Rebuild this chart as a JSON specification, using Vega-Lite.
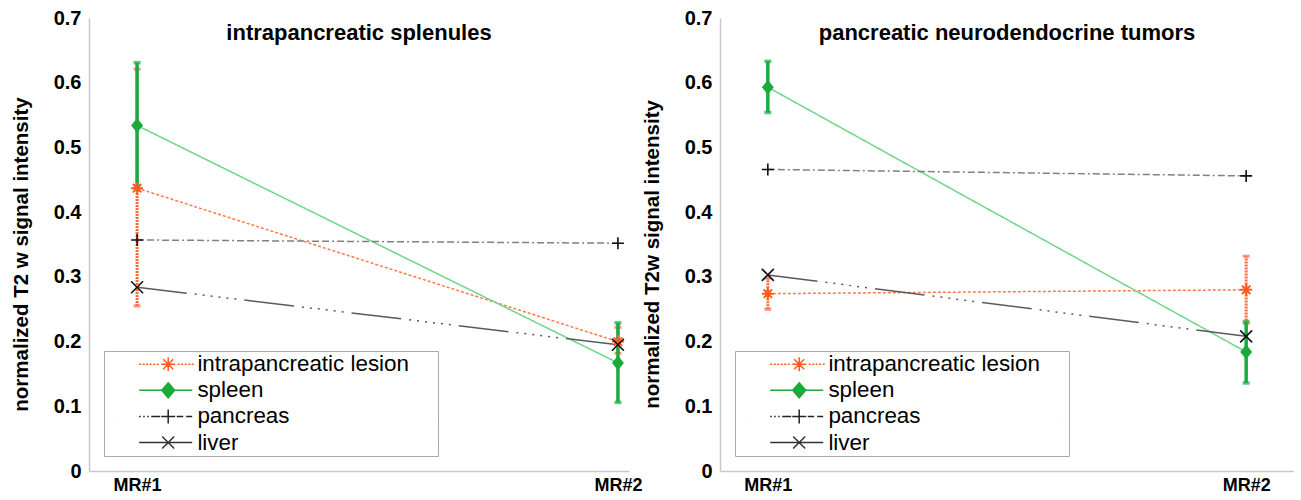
{
  "$schema": "https://vega.github.io/schema/vega-lite/v6.json",
  "padding": {"left": 11, "top": 8, "right": 0, "bottom": 4},
  "spacing": 0,
  "resolve": {
    "scale": {"color": "independent", "strokeDash": "independent", "shape": "independent", "fill": "independent", "stroke": "independent"},
    "legend": {"shape": "independent", "fill": "independent", "stroke": "independent"}
  },
  "config": {
    "font": "Liberation Sans",
    "view": {"stroke": null},
    "axis": {
      "labelFont": "Liberation Sans",
      "labelFontWeight": "bold",
      "labelColor": "black",
      "domainColor": "#c8c8c8",
      "domainWidth": 1.5,
      "ticks": false,
      "grid": false,
      "titleFont": "Liberation Sans",
      "titleFontWeight": "bold",
      "titleColor": "black"
    },
    "legend": {
      "orient": "bottom-left",
      "offset": 15,
      "padding": 2,
      "strokeColor": "#aaaaaa",
      "fillColor": "white",
      "labelFont": "Liberation Sans",
      "labelFontSize": 22.4,
      "labelColor": "black",
      "labelLimit": 500,
      "symbolSize": 100,
      "symbolStrokeWidth": 1.5,
      "symbolOffset": 51,
      "labelOffset": 18,
      "rowPadding": 3.1
    },
    "title": {"font": "Liberation Sans", "fontSize": 22, "fontWeight": "bold", "color": "black", "anchor": "middle", "offset": -37}
  },
  "datasets": {
    "d": [
      {"panel": "A", "series": "intrapancreatic lesion", "mr": 1, "value": 0.437, "lo": 0.255, "hi": 0.621},
      {"panel": "A", "series": "intrapancreatic lesion", "mr": 2, "value": 0.200, "lo": 0.182, "hi": 0.222},
      {"panel": "A", "series": "spleen", "mr": 1, "value": 0.534, "lo": 0.437, "hi": 0.631},
      {"panel": "A", "series": "spleen", "mr": 2, "value": 0.167, "lo": 0.106, "hi": 0.229},
      {"panel": "A", "series": "pancreas", "mr": 1, "value": 0.357},
      {"panel": "A", "series": "pancreas", "mr": 2, "value": 0.352},
      {"panel": "A", "series": "liver", "mr": 1, "value": 0.284},
      {"panel": "A", "series": "liver", "mr": 2, "value": 0.195},
      {"panel": "B", "series": "intrapancreatic lesion", "mr": 1, "value": 0.274, "lo": 0.250, "hi": 0.298},
      {"panel": "B", "series": "intrapancreatic lesion", "mr": 2, "value": 0.280, "lo": 0.228, "hi": 0.332},
      {"panel": "B", "series": "spleen", "mr": 1, "value": 0.593, "lo": 0.554, "hi": 0.633},
      {"panel": "B", "series": "spleen", "mr": 2, "value": 0.184, "lo": 0.136, "hi": 0.231},
      {"panel": "B", "series": "pancreas", "mr": 1, "value": 0.466},
      {"panel": "B", "series": "pancreas", "mr": 2, "value": 0.456},
      {"panel": "B", "series": "liver", "mr": 1, "value": 0.303},
      {"panel": "B", "series": "liver", "mr": 2, "value": 0.208}
    ]
  },
  "hconcat": [
    {
      "width": 540,
      "height": 453,
      "title": "intrapancreatic splenules",
      "data": {"name": "d"},
      "transform": [{"filter": "datum.panel === 'A'"}],
      "encoding": {
        "x": {"field": "mr", "type": "quantitative", "scale": {"domain": [0.9, 2.023], "nice": false, "zero": false},
              "axis": {"values": [1, 2], "labelExpr": "datum.value == 1 ? 'MR#1' : 'MR#2'", "labelFontSize": 18, "labelPadding": 5, "title": null}}
      },
      "layer": [
        {
          "transform": [{"filter": "datum.series === 'intrapancreatic lesion'"}],
          "mark": {"type": "errorbar", "ticks": true, "color": "#FF6A3D", "thickness": 3, "size": 7, "rule": {"strokeDash": [2, 1]}},
          "encoding": {
            "y": {"field": "lo", "type": "quantitative", "scale": {"domain": [0, 0.7], "nice": false}, "title": "normalized T2 w signal intensity",
                  "axis": {"values": [0, 0.1, 0.2, 0.3, 0.4, 0.5, 0.6, 0.7], "labelExpr": "datum.value == 0 ? '0' : format(datum.value, '.1f')", "labelFontSize": 20, "labelPadding": 8, "titleFontSize": 20.5, "titlePadding": 22, "titleY": 236}},
            "y2": {"field": "hi"}
          }
        },
        {
          "transform": [{"filter": "datum.series === 'spleen'"}],
          "mark": {"type": "errorbar", "ticks": true, "color": "#1DAA45", "thickness": 3.5, "size": 7},
          "encoding": {
            "y": {"field": "lo", "type": "quantitative", "title": "normalized T2 w signal intensity"},
            "y2": {"field": "hi"}
          }
        },
        {
          "mark": {"type": "line", "strokeWidth": 1.5},
          "encoding": {
            "y": {"field": "value", "type": "quantitative", "title": "normalized T2 w signal intensity"},
            "color": {"field": "series", "type": "nominal", "legend": null,
                      "scale": {"range": ["#FF7A4D", "#5A5A5A", "#808080", "#6DD58A"]}},
            "strokeDash": {"field": "series", "type": "nominal", "legend": null,
                      "scale": {"range": [[3, 2], [50, 8, 2, 6, 2, 6, 2, 6, 2, 6, 2, 6, 2, 8], [7, 3, 7, 3, 2, 3], [1, 0]]}}
          }
        },
        {
          "transform": [{"filter": "datum.series === 'intrapancreatic lesion'"}],
          "mark": {"type": "point", "shape": "M-1,0H1M0,-1V1M-0.7,-0.7L0.7,0.7M-0.7,0.7L0.7,-0.7", "size": 144, "filled": false, "color": "#FF5A22", "strokeWidth": 2, "opacity": 1},
          "encoding": {"y": {"field": "value", "type": "quantitative", "title": "normalized T2 w signal intensity"}}
        },
        {
          "transform": [{"filter": "datum.series === 'spleen'"}],
          "mark": {"type": "point", "shape": "M0,-1.05L0.85,0L0,1.05L-0.85,0Z", "size": 196, "filled": true, "color": "#1AAA3A", "opacity": 1},
          "encoding": {"y": {"field": "value", "type": "quantitative", "title": "normalized T2 w signal intensity"}}
        },
        {
          "transform": [{"filter": "datum.series === 'pancreas'"}],
          "mark": {"type": "point", "shape": "M-1,0H1M0,-1V1", "size": 144, "filled": false, "color": "#111111", "strokeWidth": 1.6, "opacity": 1},
          "encoding": {"y": {"field": "value", "type": "quantitative", "title": "normalized T2 w signal intensity"}}
        },
        {
          "transform": [{"filter": "datum.series === 'liver'"}],
          "mark": {"type": "point", "shape": "M-1,-1L1,1M-1,1L1,-1", "size": 144, "filled": false, "color": "#111111", "strokeWidth": 1.6, "opacity": 1},
          "encoding": {"y": {"field": "value", "type": "quantitative", "title": "normalized T2 w signal intensity"}}
        },
        {
          "transform": [{"filter": "datum.mr === 1"}],
          "mark": {"type": "point", "opacity": 0},
          "encoding": {
            "y": {"field": "value", "type": "quantitative", "title": "normalized T2 w signal intensity"},
            "shape": {"field": "series", "type": "nominal",
                      "scale": {"domain": ["intrapancreatic lesion", "spleen", "pancreas", "liver"],
                                "range": [
                                  "M-11,0h0.01M52.8,0h0.01M-5.8,0h0.4M-5.1,0h0.4M-4.4,0h0.4M-3.7,0h0.4M-3,0h0.4M-2.3,0h0.4M-1.4,0H1.4M0,-1.4V1.4M-1,-1L1,1M-1,1L1,-1M1.9,0h0.4M2.6,0h0.4M3.3,0h0.4M4,0h0.4M4.7,0h0.4",
                                  "M-11,0h0.01M52.8,0h0.01M-5.8,0H4.8M0,-1.5L1.3,0L0,1.5L-1.3,0ZM-1.04,-0.3H1.04M-1.04,0.3H1.04M-0.78,-0.6H0.78M-0.78,0.6H0.78M-0.52,-0.9H0.52M-0.52,0.9H0.52M-0.26,-1.2H0.26M-0.26,1.2H0.26",
                                  "M-11,0h0.01M52.8,0h0.01M-5.8,0h0.3M-5,0h0.3M-4.2,0h0.3M-3.4,0H-1.6M-1.4,0H1.4M0,-1.4V1.4M1.7,0H3M3.6,0H4.8",
                                  "M-11,0h0.01M52.8,0h0.01M-5.8,0H4.8M-1.2,-1.2L1.2,1.2M-1.2,1.2L1.2,-1.2"
                                ]},
                      "legend": {"title": null}},
            "fill": {"field": "series", "type": "nominal",
                     "scale": {"domain": ["intrapancreatic lesion", "spleen", "pancreas", "liver"], "range": ["#FF5A22", "#1AAA3A", "#222222", "#333333"]},
                     "legend": {"title": null}},
            "stroke": {"field": "series", "type": "nominal",
                     "scale": {"domain": ["intrapancreatic lesion", "spleen", "pancreas", "liver"], "range": ["#FF5A22", "#1AAA3A", "#222222", "#333333"]},
                     "legend": {"title": null}}
          }
        }
      ]
    },
    {
      "width": 574,
      "height": 453,
      "title": "pancreatic neurodendocrine tumors",
      "data": {"name": "d"},
      "transform": [{"filter": "datum.panel === 'B'"}],
      "encoding": {
        "x": {"field": "mr", "type": "quantitative", "scale": {"domain": [0.9, 2.1], "nice": false, "zero": false},
              "axis": {"values": [1, 2], "labelExpr": "datum.value == 1 ? 'MR#1' : 'MR#2'", "labelFontSize": 18, "labelPadding": 5, "title": null}}
      },
      "layer": [
        {
          "transform": [{"filter": "datum.series === 'intrapancreatic lesion'"}],
          "mark": {"type": "errorbar", "ticks": true, "color": "#FF6A3D", "thickness": 3, "size": 7, "rule": {"strokeDash": [2, 1]}},
          "encoding": {
            "y": {"field": "lo", "type": "quantitative", "scale": {"domain": [0, 0.7], "nice": false}, "title": "normalized T2w signal intensity",
                  "axis": {"values": [0, 0.1, 0.2, 0.3, 0.4, 0.5, 0.6, 0.7], "labelExpr": "datum.value == 0 ? '0' : format(datum.value, '.1f')", "labelFontSize": 20, "labelPadding": 8, "titleFontSize": 20.5, "titlePadding": 22, "titleY": 236}},
            "y2": {"field": "hi"}
          }
        },
        {
          "transform": [{"filter": "datum.series === 'spleen'"}],
          "mark": {"type": "errorbar", "ticks": true, "color": "#1DAA45", "thickness": 3.5, "size": 7},
          "encoding": {
            "y": {"field": "lo", "type": "quantitative", "title": "normalized T2w signal intensity"},
            "y2": {"field": "hi"}
          }
        },
        {
          "mark": {"type": "line", "strokeWidth": 1.5},
          "encoding": {
            "y": {"field": "value", "type": "quantitative", "title": "normalized T2w signal intensity"},
            "color": {"field": "series", "type": "nominal", "legend": null,
                      "scale": {"range": ["#FF7A4D", "#5A5A5A", "#808080", "#6DD58A"]}},
            "strokeDash": {"field": "series", "type": "nominal", "legend": null,
                      "scale": {"range": [[3, 2], [50, 8, 2, 6, 2, 6, 2, 6, 2, 6, 2, 6, 2, 8], [7, 3, 7, 3, 2, 3], [1, 0]]}}
          }
        },
        {
          "transform": [{"filter": "datum.series === 'intrapancreatic lesion'"}],
          "mark": {"type": "point", "shape": "M-1,0H1M0,-1V1M-0.7,-0.7L0.7,0.7M-0.7,0.7L0.7,-0.7", "size": 144, "filled": false, "color": "#FF5A22", "strokeWidth": 2, "opacity": 1},
          "encoding": {"y": {"field": "value", "type": "quantitative", "title": "normalized T2w signal intensity"}}
        },
        {
          "transform": [{"filter": "datum.series === 'spleen'"}],
          "mark": {"type": "point", "shape": "M0,-1.05L0.85,0L0,1.05L-0.85,0Z", "size": 196, "filled": true, "color": "#1AAA3A", "opacity": 1},
          "encoding": {"y": {"field": "value", "type": "quantitative", "title": "normalized T2w signal intensity"}}
        },
        {
          "transform": [{"filter": "datum.series === 'pancreas'"}],
          "mark": {"type": "point", "shape": "M-1,0H1M0,-1V1", "size": 144, "filled": false, "color": "#111111", "strokeWidth": 1.6, "opacity": 1},
          "encoding": {"y": {"field": "value", "type": "quantitative", "title": "normalized T2w signal intensity"}}
        },
        {
          "transform": [{"filter": "datum.series === 'liver'"}],
          "mark": {"type": "point", "shape": "M-1,-1L1,1M-1,1L1,-1", "size": 144, "filled": false, "color": "#111111", "strokeWidth": 1.6, "opacity": 1},
          "encoding": {"y": {"field": "value", "type": "quantitative", "title": "normalized T2w signal intensity"}}
        },
        {
          "transform": [{"filter": "datum.mr === 1"}],
          "mark": {"type": "point", "opacity": 0},
          "encoding": {
            "y": {"field": "value", "type": "quantitative", "title": "normalized T2w signal intensity"},
            "shape": {"field": "series", "type": "nominal",
                      "scale": {"domain": ["intrapancreatic lesion", "spleen", "pancreas", "liver"],
                                "range": [
                                  "M-11,0h0.01M52.8,0h0.01M-5.8,0h0.4M-5.1,0h0.4M-4.4,0h0.4M-3.7,0h0.4M-3,0h0.4M-2.3,0h0.4M-1.4,0H1.4M0,-1.4V1.4M-1,-1L1,1M-1,1L1,-1M1.9,0h0.4M2.6,0h0.4M3.3,0h0.4M4,0h0.4M4.7,0h0.4",
                                  "M-11,0h0.01M52.8,0h0.01M-5.8,0H4.8M0,-1.5L1.3,0L0,1.5L-1.3,0ZM-1.04,-0.3H1.04M-1.04,0.3H1.04M-0.78,-0.6H0.78M-0.78,0.6H0.78M-0.52,-0.9H0.52M-0.52,0.9H0.52M-0.26,-1.2H0.26M-0.26,1.2H0.26",
                                  "M-11,0h0.01M52.8,0h0.01M-5.8,0h0.3M-5,0h0.3M-4.2,0h0.3M-3.4,0H-1.6M-1.4,0H1.4M0,-1.4V1.4M1.7,0H3M3.6,0H4.8",
                                  "M-11,0h0.01M52.8,0h0.01M-5.8,0H4.8M-1.2,-1.2L1.2,1.2M-1.2,1.2L1.2,-1.2"
                                ]},
                      "legend": {"title": null}},
            "fill": {"field": "series", "type": "nominal",
                     "scale": {"domain": ["intrapancreatic lesion", "spleen", "pancreas", "liver"], "range": ["#FF5A22", "#1AAA3A", "#222222", "#333333"]},
                     "legend": {"title": null}},
            "stroke": {"field": "series", "type": "nominal",
                     "scale": {"domain": ["intrapancreatic lesion", "spleen", "pancreas", "liver"], "range": ["#FF5A22", "#1AAA3A", "#222222", "#333333"]},
                     "legend": {"title": null}}
          }
        }
      ]
    }
  ]
}
